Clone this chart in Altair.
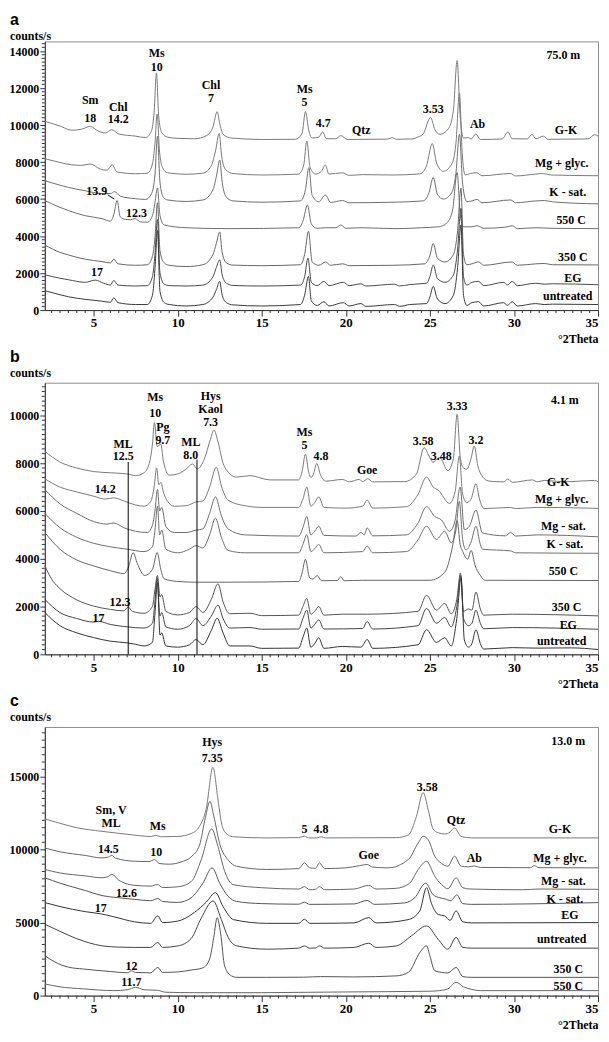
import altair as alt
import pandas as pd

# ---------------- Panel a (75.0 m) ----------------
A_GK = [(2.1,10200),(3.0,9950),(3.7,9720),(4.3,9780),(4.8,9930),(5.3,9660),(5.7,9570),(6.08,9750),(6.5,9520),(7.5,9400),(8.1,9320),(8.45,9700),(8.6,10700),(8.74,12820),(8.87,10500),(9.05,9600),(9.4,9350),(10.0,9280),(11.0,9260),(11.7,9420),(12.1,9900),(12.35,10730),(12.5,10100),(12.7,9500),(13.2,9300),(15.0,9220),(17.0,9230),(17.4,9550),(17.6,10730),(17.8,9700),(18.0,9300),(18.4,9350),(18.62,9630),(18.85,9260),(19.4,9260),(19.7,9430),(20.1,9220),(22.5,9240),(22.75,9320),(23.0,9230),(24.0,9250),(24.2,9320),(24.6,9520),(25.04,10410),(25.3,9750),(25.6,9500),(26.1,9800),(26.4,10800),(26.62,13480),(26.8,10500),(27.0,9300),(27.3,9320),(27.45,9240),(27.74,9520),(28.0,9220),(29.3,9250),(29.64,9630),(29.9,9260),(30.8,9250),(31.07,9500),(31.3,9260),(31.76,9400),(32.0,9230),(34.4,9250),(34.8,9480),(35.0,9400)]
A_MG = [(2.1,8180),(3.0,7980),(3.7,7850),(4.3,7820),(4.8,7900),(5.4,7620),(5.8,7560),(6.1,7850),(6.4,7460),(7.5,7370),(8.2,7400),(8.5,7900),(8.65,9000),(8.78,10600),(8.92,8600),(9.1,7700),(9.4,7420),(10.5,7340),(11.5,7400),(12.0,7800),(12.25,8600),(12.47,9540),(12.62,8300),(12.85,7600),(13.3,7380),(15.0,7300),(17.2,7350),(17.5,7850),(17.68,9130),(17.88,7700),(18.2,7350),(18.55,7500),(18.78,7840),(19.0,7350),(19.8,7420),(20.2,7280),(21.0,7320),(22.8,7300),(24.4,7360),(24.8,7800),(25.14,9000),(25.4,7950),(25.8,7500),(26.3,7900),(26.55,9000),(26.76,11720),(26.92,8500),(27.1,7300),(27.4,7380),(27.8,7420),(28.1,7260),(29.8,7380),(30.1,7250),(31.3,7350),(31.7,7380),(32.2,7300),(35.0,7260)]
A_KS = [(2.1,6990),(3.0,6750),(3.5,6630),(4.5,6450),(5.5,6300),(6.0,6300),(6.25,6400),(6.6,6150),(7.5,6020),(8.1,5980),(8.45,6300),(8.65,7300),(8.8,9400),(8.95,6900),(9.15,6100),(9.4,5950),(10.5,5870),(11.5,5950),(12.1,6500),(12.32,7300),(12.5,8110),(12.65,6900),(12.9,6100),(13.3,5900),(15.0,5830),(17.3,5900),(17.6,6500),(17.8,7700),(18.0,6200),(18.4,5850),(18.78,6220),(19.1,5820),(19.8,5920),(20.2,5800),(22.8,5830),(24.6,5900),(24.95,6350),(25.2,7170),(25.45,6250),(25.8,6000),(26.3,6350),(26.55,7400),(26.76,9500),(26.95,6800),(27.2,5860),(27.5,5900),(27.8,5980),(28.1,5800),(29.8,5950),(30.1,5800),(31.3,5900),(31.8,5920),(32.3,5850),(35.0,5740)]
A_550 = [(2.1,5920),(3.0,5550),(3.5,5380),(4.5,5100),(5.5,4940),(6.0,4800),(6.2,5150),(6.4,5920),(6.58,5050),(6.9,4900),(7.2,4880),(7.45,4950),(7.8,4760),(8.2,4750),(8.5,5100),(8.65,5800),(8.8,6600),(8.95,5100),(9.2,4600),(10.5,4450),(13.0,4400),(17.2,4450),(17.45,4800),(17.72,5680),(17.95,4650),(18.3,4420),(18.8,4450),(19.4,4450),(19.7,4600),(20.0,4420),(20.9,4450),(23.0,4400),(24.5,4450),(25.5,4500),(26.0,4700),(26.35,5400),(26.62,7430),(26.8,5200),(27.0,4500),(27.5,4500),(27.8,4560),(28.2,4420),(29.5,4480),(29.9,4560),(30.2,4400),(31.3,4450),(32.2,4420),(35.0,4400)]
A_350 = [(2.1,3510),(3.0,3120),(3.5,2980),(4.5,2750),(5.5,2620),(6.0,2550),(6.2,2750),(6.45,2500),(7.5,2420),(8.2,2450),(8.5,2900),(8.65,3900),(8.8,5800),(8.95,3200),(9.2,2550),(9.5,2420),(10.5,2350),(11.5,2450),(12.1,3000),(12.3,3600),(12.5,4220),(12.65,3100),(12.9,2550),(13.3,2430),(15.0,2400),(17.3,2450),(17.55,3000),(17.78,4260),(18.0,2600),(18.4,2420),(18.8,2600),(19.1,2420),(19.8,2500),(20.2,2400),(22.8,2420),(24.7,2500),(25.0,2950),(25.2,3600),(25.45,2800),(25.9,2600),(26.4,3000),(26.65,4300),(26.85,6600),(27.0,3000),(27.2,2450),(27.5,2500),(27.9,2600),(28.2,2420),(29.9,2600),(30.2,2420),(31.3,2500),(31.8,2520),(32.3,2450),(35.0,2440)]
A_EG = [(2.1,1910),(3.0,1720),(3.5,1640),(4.5,1500),(5.1,1620),(5.6,1450),(6.0,1350),(6.2,1600),(6.45,1350),(7.5,1300),(8.2,1320),(8.5,1800),(8.65,3000),(8.8,4900),(8.95,2000),(9.2,1400),(9.5,1320),(10.5,1300),(11.5,1350),(12.1,1800),(12.3,2300),(12.5,2710),(12.65,1900),(12.9,1450),(13.3,1330),(15.0,1300),(17.3,1350),(17.55,1800),(17.75,2800),(17.95,1500),(18.3,1320),(18.7,1550),(19.0,1320),(19.85,1500),(20.2,1320),(20.9,1420),(21.2,1300),(22.9,1400),(23.2,1300),(23.8,1380),(24.8,1450),(25.0,1800),(25.2,2440),(25.45,1700),(25.9,1500),(26.4,1900),(26.65,3300),(26.85,5500),(27.0,1800),(27.2,1350),(27.5,1500),(27.9,1550),(28.2,1320),(29.4,1500),(29.6,1350),(29.9,1550),(30.2,1320),(31.3,1450),(31.8,1400),(32.3,1420),(35.0,1370)]
A_UN = [(2.1,1050),(3.0,830),(3.5,720),(4.5,580),(5.5,480),(6.0,420),(6.2,660),(6.45,400),(7.5,300),(8.2,300),(8.5,800),(8.65,2200),(8.8,4300),(8.95,1000),(9.2,400),(9.5,300),(10.5,220),(11.5,300),(12.1,700),(12.3,1100),(12.5,1550),(12.65,800),(12.9,400),(13.3,280),(15.0,220),(17.3,300),(17.55,800),(17.78,1820),(17.95,500),(18.3,250),(18.7,450),(19.0,220),(19.85,400),(20.2,220),(20.9,350),(21.2,200),(22.9,300),(23.2,200),(23.8,300),(24.8,350),(25.0,700),(25.2,1280),(25.45,600),(25.9,350),(26.4,800),(26.65,2300),(26.85,4600),(27.0,800),(27.2,250),(27.5,400),(27.9,450),(28.2,220),(29.4,400),(29.6,250),(29.9,450),(30.2,220),(31.3,350),(31.8,300),(32.3,320),(35.0,300)]
A_NAMES = ["G-K", "Mg + glyc.", "K - sat.", "550 C", "350 C", "EG", "untreated"]
A_NOTES = [("Sm",4.8,11350),("18",4.8,10370),("Chl",6.47,11000),("14.2",6.47,10300),("Ms",8.75,13880),("10",8.75,13150),
           ("Chl",11.98,12150),("7",11.98,11450),("Ms",17.55,11950),("5",17.55,11250),("4.7",18.66,10100),("Qtz",20.92,9750),
           ("3.53",25.2,10860),("Ab",27.84,10070),("75.0 m",32.94,13760),("13.9",5.19,6450),("12.3",7.55,5240),("17",5.2,2030),
           ("G-K",33.1,9750),("Mg + glyc.",32.84,7970),("K - sat.",33.2,6360),("550 C",33.4,4850),("350 C",33.5,2890),
           ("EG",33.5,1730),("untreated",33.2,750)]
A_LEADER = [(5.84, 6230, 6.23, 6000)]

# ---------------- Panel b (4.1 m) ----------------
B_GK = [(2.1,8500),(3.0,8050),(4.0,7800),(5.0,7650),(6.0,7600),(7.0,7550),(7.5,7480),(8.0,7600),(8.35,8100),(8.5,8800),(8.62,9700),(8.78,8700),(8.9,8750),(9.0,8800),(9.15,8100),(9.5,7500),(10.0,7550),(10.5,7750),(10.88,7970),(11.18,7760),(11.6,8200),(11.95,9000),(12.16,9380),(12.4,8900),(12.7,8000),(12.94,7680),(13.5,7420),(14.3,7480),(15.5,7300),(17.2,7300),(17.4,7650),(17.6,8380),(17.8,7600),(17.94,7400),(18.1,7600),(18.27,7990),(18.5,7500),(18.8,7250),(19.8,7320),(20.2,7220),(20.8,7320),(21.0,7230),(21.3,7350),(21.6,7220),(23.5,7230),(24.2,7550),(24.66,8650),(24.95,8300),(25.19,8040),(25.58,8240),(26.07,7690),(26.4,8200),(26.62,10050),(26.8,8300),(26.96,7830),(27.2,7750),(27.45,8200),(27.64,8720),(27.85,7900),(28.03,7550),(28.52,7250),(29.4,7220),(29.64,7340),(29.9,7200),(31.1,7300),(31.4,7220),(31.8,7280),(33.0,7220),(34.8,7280),(35.0,7220)]
B_MG = [(2.1,7350),(3.0,7000),(4.0,6800),(5.0,6620),(5.7,6500),(6.2,6550),(6.8,6420),(7.5,6250),(8.0,6200),(8.4,6400),(8.6,7000),(8.75,7800),(8.88,7100),(9.0,7200),(9.15,6800),(9.4,6400),(9.8,6200),(10.5,6220),(11.1,6380),(11.5,6420),(11.9,7000),(12.3,7830),(12.6,7050),(13.0,6450),(14.0,6220),(15.0,6150),(17.2,6150),(17.45,6500),(17.68,7000),(17.92,6200),(18.15,6350),(18.39,6590),(18.7,6150),(20.0,6120),(21.0,6200),(21.27,6460),(21.6,6120),(23.6,6180),(24.3,6700),(24.8,7420),(25.2,7000),(25.5,6870),(26.17,6320),(26.5,6800),(26.75,8300),(26.95,6700),(27.2,6350),(27.45,6500),(27.74,7140),(27.95,6500),(28.23,6100),(29.8,6150),(30.1,6100),(31.4,6150),(35.0,6110)]
B_MS = [(2.1,6900),(3.0,6300),(4.0,5900),(5.0,5560),(5.8,5450),(6.2,5500),(6.8,5300),(7.5,5150),(8.2,5100),(8.5,5400),(8.65,6000),(8.8,6900),(8.93,6000),(9.05,6150),(9.3,5350),(9.8,5100),(10.5,5100),(11.1,5200),(11.5,5250),(11.9,5900),(12.25,6590),(12.6,5800),(13.0,5250),(14.0,5000),(17.2,4950),(17.45,5300),(17.68,5770),(17.92,5000),(18.15,5150),(18.39,5360),(18.7,4980),(20.6,4950),(20.9,5100),(21.1,5000),(21.27,5290),(21.6,4960),(23.6,5000),(24.3,5500),(24.8,6180),(25.29,5770),(25.68,5630),(26.17,5150),(26.5,5600),(26.8,7000),(27.05,5220),(27.35,5360),(27.74,6040),(28.13,5080),(29.5,4960),(29.8,5100),(30.1,4950),(31.4,5000),(35.0,4920)]
B_KS = [(2.1,5900),(3.0,5300),(4.0,4900),(5.0,4650),(6.0,4500),(7.0,4400),(8.0,4300),(8.5,4500),(8.65,5200),(8.8,6200),(8.93,5000),(9.05,5200),(9.3,4400),(10.0,4250),(10.7,4400),(11.1,4550),(11.5,4450),(11.9,5000),(12.25,5700),(12.6,4900),(13.0,4350),(14.0,4250),(17.2,4250),(17.45,4600),(17.68,5010),(17.92,4300),(18.15,4420),(18.39,4600),(18.7,4250),(21.0,4300),(21.27,4530),(21.6,4250),(23.6,4300),(24.3,4800),(24.8,5360),(25.39,4810),(25.88,5150),(26.27,4670),(26.55,5200),(26.75,6400),(26.95,4800),(27.15,4370),(27.45,4700),(27.74,5360),(28.0,4600),(28.13,4400),(29.8,4330),(30.1,4250),(35.0,4230)]
B_550 = [(2.1,5100),(3.0,4400),(4.0,3950),(5.0,3700),(6.0,3500),(6.8,3380),(7.1,3700),(7.35,4260),(7.6,3800),(8.04,3300),(8.5,3550),(8.78,4260),(9.0,3550),(9.2,3160),(10.0,3050),(11.0,3020),(13.0,3020),(17.2,3050),(17.4,3400),(17.6,3980),(17.85,3200),(18.05,3150),(18.3,3300),(18.55,3080),(19.5,3090),(19.7,3250),(19.9,3080),(21.0,3100),(25.0,3100),(25.88,3430),(26.37,4600),(26.62,5600),(26.8,4600),(26.96,4300),(27.25,3980),(27.45,4350),(27.7,3700),(27.94,3370),(28.3,3100),(35.0,3090)]
B_350 = [(2.1,3700),(2.6,3050),(3.0,2750),(4.0,2280),(5.0,2020),(6.0,1880),(6.8,1820),(7.06,1980),(7.3,1800),(8.0,1720),(8.5,2000),(8.65,2700),(8.8,3300),(8.95,2400),(9.05,2500),(9.3,1800),(10.0,1650),(10.7,1750),(11.1,2000),(11.5,1750),(12.0,2300),(12.4,2950),(12.7,2200),(13.1,1700),(14.3,1720),(15.0,1620),(17.2,1640),(17.45,2000),(17.68,2340),(17.92,1680),(18.15,1800),(18.39,2000),(18.7,1640),(19.8,1680),(21.3,1680),(24.3,1800),(24.8,2470),(25.39,1850),(25.88,2130),(26.27,1700),(26.6,2300),(26.82,3400),(27.0,1800),(27.3,1900),(27.5,1850),(27.74,2610),(28.0,1900),(28.2,1640),(29.9,1680),(35.0,1610)]
B_EG = [(2.1,2300),(3.0,1750),(4.0,1500),(5.0,1350),(5.3,1380),(6.0,1250),(7.0,1150),(8.0,1100),(8.5,1300),(8.65,2200),(8.78,3200),(8.95,1600),(9.05,1750),(9.3,1150),(10.0,1050),(10.7,1200),(11.1,1500),(11.5,1200),(12.0,1600),(12.4,2060),(12.7,1500),(13.1,1100),(14.3,1120),(15.0,1050),(17.2,1060),(17.45,1500),(17.68,1850),(17.92,1100),(18.15,1250),(18.39,1440),(18.7,1060),(21.0,1080),(21.27,1370),(21.6,1060),(24.3,1200),(24.8,1920),(25.39,1300),(25.88,1540),(26.27,1150),(26.6,2000),(26.84,3300),(27.0,1500),(27.3,1200),(27.5,1300),(27.74,1850),(28.0,1300),(28.2,1070),(29.9,1120),(35.0,1050)]
B_UN = [(2.1,1750),(3.0,1200),(4.0,900),(5.0,700),(6.0,550),(7.0,480),(7.5,420),(8.0,350),(8.5,500),(8.65,1700),(8.8,3000),(8.95,800),(9.05,900),(9.3,350),(10.0,300),(10.7,400),(11.1,620),(11.5,400),(12.0,1000),(12.35,1510),(12.7,900),(13.1,350),(14.3,350),(15.0,250),(17.2,260),(17.45,700),(17.68,1100),(17.92,300),(18.15,450),(18.39,690),(18.7,250),(19.8,330),(20.9,300),(21.27,620),(21.6,250),(24.3,400),(24.8,1030),(25.39,500),(25.88,690),(26.27,350),(26.6,1500),(26.86,3200),(27.05,600),(27.3,300),(27.5,450),(27.74,1030),(28.0,450),(28.2,220),(29.9,280),(31.3,260),(33.4,270),(35.0,200)]
B_NAMES = ["G-K", "Mg + glyc.", "Mg - sat.", "K - sat.", "550 C", "350 C", "EG", "untreated"]
B_NOTES = [("ML",6.76,8820),("12.5",6.76,8300),("Ms",8.67,10760),("10",8.67,10100),("Pg",9.12,9520),("9.7",9.12,8990),
           ("ML",10.78,8900),("8.0",10.78,8360),("Hys",11.96,10800),("Kaol",11.96,10270),("7.3",11.96,9740),
           ("14.2",5.69,6940),("12.3",6.57,2200),("17",5.29,1510),("Ms",17.54,9300),("5",17.54,8760),("4.8",18.52,8310),
           ("Goe",21.27,7720),("3.58",24.6,8930),("3.48",25.68,8310),("3.33",26.62,10410),("3.2",27.74,8960),("4.1 m",33.03,10650),
           ("G-K",32.64,7210),("Mg + glyc.",32.84,6520),("Mg - sat.",32.94,5360),("K - sat.",33.03,4600),("550 C",32.94,3500),
           ("350 C",33.13,1990),("EG",33.23,1240),("untreated",32.84,550)]
B_LINES = [(7.06, 0, 8050), (11.15, 0, 8150)]

# ---------------- Panel c (13.0 m) ----------------
C_GK = [(2.1,12100),(3.0,11800),(4.0,11500),(5.5,11250),(7.0,11050),(8.43,10900),(8.7,10980),(9.0,10880),(10.0,10900),(10.8,11100),(11.3,11600),(11.7,12800),(12.1,15640),(12.4,13400),(12.65,11600),(13.0,11000),(13.33,10880),(15.3,10800),(17.2,10820),(17.54,10920),(17.8,10800),(18.3,10800),(18.52,10880),(18.8,10800),(23.0,10820),(23.72,11000),(24.2,12270),(24.6,13910),(24.9,12730),(25.19,11410),(25.5,11150),(25.88,11070),(26.2,11200),(26.47,11480),(26.86,10900),(27.5,10800),(35.0,10800)]
C_MG = [(2.1,10110),(3.0,9850),(4.5,9600),(5.5,9430),(5.85,9480),(6.08,9600),(6.3,9420),(7.45,9200),(8.3,9180),(8.63,9320),(8.9,9050),(9.5,9000),(10.2,9150),(10.8,9500),(11.3,10300),(11.65,12200),(11.92,13300),(12.15,12300),(12.5,10400),(13.0,9300),(13.5,8860),(15.3,8640),(17.2,8700),(17.54,9090),(17.85,8750),(18.2,8720),(18.43,9090),(18.75,8700),(20.0,8750),(20.8,8900),(21.27,8980),(21.6,8800),(22.5,8750),(23.72,9320),(24.31,10460),(24.6,10910),(24.9,10680),(25.29,9550),(25.7,9050),(26.07,8860),(26.47,9550),(26.86,8860),(27.3,8820),(27.64,8880),(28.0,8780),(30.98,8760),(31.2,8900),(31.5,8760),(35.0,8750)]
C_MS = [(2.1,8640),(3.0,8400),(4.5,8200),(5.5,8070),(5.85,8150),(6.1,8300),(6.5,7900),(7.45,7550),(8.4,7500),(8.8,7610),(9.1,7400),(10.0,7450),(10.8,7800),(11.4,9300),(12.02,11410),(12.4,10200),(12.8,8500),(13.3,7600),(15.0,7390),(17.2,7300),(17.54,7460),(17.85,7250),(18.2,7280),(18.43,7460),(18.75,7250),(20.5,7300),(21.37,7550),(21.8,7300),(23.0,7350),(23.8,7700),(24.31,8640),(24.8,9200),(25.29,8180),(25.7,7600),(26.07,7320),(26.56,8070),(26.96,7390),(27.4,7300),(30.5,7250),(31.5,7300),(35.0,7280)]
C_KS = [(2.1,8070),(3.0,7700),(4.5,7200),(5.5,6850),(6.5,6700),(7.45,6590),(8.4,6500),(8.82,6650),(9.1,6450),(10.0,6380),(10.8,6700),(11.5,7700),(12.05,8750),(12.5,7700),(13.0,6800),(13.5,6450),(15.0,6300),(17.2,6260),(17.54,6400),(17.85,6250),(20.5,6280),(21.27,6520),(21.7,6250),(23.5,6350),(24.1,6700),(24.75,7700),(25.2,6900),(25.6,6700),(25.9,6620),(26.25,6500),(26.6,6900),(26.96,6300),(27.5,6250),(35.0,6370)]
C_EG = [(2.1,6370),(3.0,6100),(4.5,5750),(5.43,5600),(6.2,5400),(7.45,5050),(8.4,4950),(8.82,5460),(9.1,5000),(10.0,5100),(11.0,5700),(11.7,6400),(12.25,7050),(12.7,6100),(13.33,5200),(15.3,4950),(17.2,4950),(17.54,5230),(17.85,4950),(20.5,4980),(21.37,5340),(21.8,4980),(23.7,5200),(24.4,5800),(24.8,7390),(25.1,6300),(25.5,5550),(25.88,5460),(26.2,5150),(26.56,5800),(26.96,5050),(27.5,4980),(35.0,5000)]
C_UN = [(2.1,4890),(3.0,4400),(4.0,3900),(5.5,3410),(6.5,3320),(7.45,3300),(8.4,3300),(8.82,3640),(9.1,3300),(10.0,3400),(10.8,3900),(11.4,5300),(12.11,6480),(12.6,5200),(13.0,4000),(13.5,3410),(15.3,3180),(17.2,3250),(17.54,3400),(17.85,3250),(18.2,3260),(18.43,3400),(18.75,3250),(20.5,3300),(21.37,3590),(21.8,3300),(23.0,3400),(23.9,4090),(24.8,4770),(25.49,3860),(26.07,3180),(26.56,3980),(26.96,3300),(27.5,3250),(35.0,3250)]
C_350 = [(2.1,2730),(2.7,2300),(3.5,1950),(4.4,1820),(6.0,1650),(7.0,1560),(7.25,1700),(7.5,1580),(8.4,1560),(8.82,1930),(9.1,1590),(10.0,1620),(10.8,1750),(11.5,1900),(11.9,2500),(12.15,4000),(12.35,5340),(12.55,4300),(12.8,2000),(13.2,1350),(13.5,1250),(15.3,1250),(17.5,1260),(18.5,1300),(20.5,1280),(23.0,1350),(23.72,1590),(24.41,2960),(24.8,3410),(25.0,2730),(25.29,1700),(26.07,1550),(26.56,1930),(26.96,1300),(27.5,1250),(35.0,1250)]
C_550 = [(2.1,800),(3.0,600),(4.4,460),(6.2,340),(7.0,400),(7.5,570),(8.0,400),(8.8,360),(9.3,230),(11.0,200),(15.0,200),(17.2,220),(20.0,250),(25.0,300),(26.0,420),(26.56,910),(27.0,600),(27.5,420),(28.0,340),(35.0,340)]
C_NAMES = ["G-K", "Mg + glyc.", "Mg - sat.", "K - sat.", "EG", "untreated", "350 C", "550 C"]
C_NOTES = [("Hys",12.06,17390),("7.35",12.06,16250),("Sm, V",6.04,12730),("ML",6.04,11820),("Ms",8.82,11640),
           ("14.5",5.88,10050),("10",8.73,9820),("12.6",6.96,7000),("17",5.43,6020),("12",7.25,2050),("11.7",7.25,910),
           ("5",17.54,11400),("4.8",18.52,11400),("Goe",21.37,9660),("3.58",24.84,14300),("Qtz",26.56,12050),("Ab",27.64,9430),
           ("13.0 m",33.23,17450),("G-K",32.74,11400),("Mg + glyc.",32.74,9430),("Mg - sat.",32.94,7880),("K - sat.",33.03,6640),
           ("EG",33.33,5500),("untreated",32.84,3860),("350 C",33.23,1820),("550 C",33.23,680)]

# ---------------- styling ----------------
SERIF = "Liberation Serif"
SANS = "Liberation Sans"
PLOT_W = 556
A_COLORS = ["#7a7a7a", "#7a7a7a", "#6e6e6e", "#6e6e6e", "#666666", "#4a4a4a", "#3a3a3a"]
B_COLORS = ["#7a7a7a", "#7a7a7a", "#6e6e6e", "#6e6e6e", "#666666", "#555555", "#444444", "#333333"]
C_COLORS = ["#7a7a7a", "#666666", "#666666", "#555555", "#333333", "#444444", "#555555", "#666666"]


def panel(letter, names, traces, colors, notes, ytop, ymajor, yminor, height, prefix,
          vlines=None, leaders=None):
    rows = []
    for name, pts in zip(names, traces):
        for i, (x, y) in enumerate(pts):
            rows.append({"trace": prefix + name, "x": x, "y": y, "i": i})
    df = pd.DataFrame(rows)
    notes_df = pd.DataFrame(notes, columns=["t", "x", "y"])

    xscale = alt.Scale(domain=[2.1, 35], nice=False, zero=False)
    yscale = alt.Scale(domain=[0, ytop], nice=False, zero=False)
    x_axis = alt.Axis(
        values=[5, 10, 15, 20, 25, 30, 35], tickSize=6, format="d",
        labelOverlap=False, labelFlush=True, labelPadding=1, grid=False,
        title="°2Theta", titleX=PLOT_W, titleY=29, titleAlign="right", titleBaseline="middle",
    )
    y_axis = alt.Axis(
        values=list(range(0, ytop + 1, ymajor)), tickSize=5, format="d",
        labelOverlap=False, labelPadding=1, grid=False, title=None,
    )
    X = alt.X("x:Q", scale=xscale, axis=x_axis)
    Y = alt.Y("y:Q", scale=yscale, axis=y_axis)

    lines = alt.Chart(df).mark_line(strokeWidth=1, interpolate="monotone").encode(
        x=X, y=Y,
        color=alt.Color("trace:N", scale=alt.Scale(domain=[prefix + n for n in names], range=colors), legend=None),
        order="i:Q",
    )
    text = alt.Chart(notes_df).mark_text(font=SERIF, fontWeight="bold", fontSize=12, color="black").encode(
        x=X, y=Y, text="t:N"
    )
    # minor ticks on both axes
    xminor = pd.DataFrame({"x": [t / 2 for t in range(5, 71) if t % 10 != 0]})
    yminor_df = pd.DataFrame({"y": [v for v in range(0, ytop + 1, yminor) if v % ymajor != 0]})
    xm = alt.Chart(xminor).mark_rule(color="#333333", strokeWidth=1).encode(
        x=X, y=alt.value(height), y2=alt.value(height + 3))
    ym = alt.Chart(yminor_df).mark_rule(color="#333333", strokeWidth=1).encode(
        y=Y, x=alt.value(0), x2=alt.value(-3))
    layers = [lines, text, xm, ym]
    if vlines:
        vdf = pd.DataFrame(vlines, columns=["x", "y", "y2"])
        layers.append(alt.Chart(vdf).mark_rule(color="black", strokeWidth=1).encode(x=X, y=Y, y2="y2:Q"))
    if leaders:
        ldf = pd.DataFrame(leaders, columns=["x", "y", "x2", "y2"])
        layers.append(alt.Chart(ldf).mark_rule(color="black", strokeWidth=1).encode(x=X, y=Y, x2="x2:Q", y2="y2:Q"))

    letter_y = -22 if letter == "a" else -26
    unit_y = -5 if letter == "a" else -10
    lab = alt.Chart(pd.DataFrame({"t": [letter]})).mark_text(
        font=SANS, fontWeight="bold", fontSize=16, align="left", baseline="middle", color="black"
    ).encode(x=alt.value(-35), y=alt.value(letter_y), text="t:N")
    unit = alt.Chart(pd.DataFrame({"t": ["counts/s"]})).mark_text(
        font=SERIF, fontWeight="bold", fontSize=12, align="left", baseline="middle", color="black"
    ).encode(x=alt.value(-35), y=alt.value(unit_y), text="t:N")
    layers += [lab, unit]
    return alt.layer(*layers).properties(width=PLOT_W, height=height)


pa = panel("a", A_NAMES, [A_GK, A_MG, A_KS, A_550, A_350, A_EG, A_UN], A_COLORS, A_NOTES,
           14520, 2000, 200, 270, "a:", leaders=A_LEADER)
pb = panel("b", B_NAMES, [B_GK, B_MG, B_MS, B_KS, B_550, B_350, B_EG, B_UN], B_COLORS, B_NOTES,
           11370, 2000, 200, 273, "b:", vlines=B_LINES)
pc = panel("c", C_NAMES, [C_GK, C_MG, C_MS, C_KS, C_EG, C_UN, C_350, C_550], C_COLORS, C_NOTES,
           18400, 5000, 500, 270, "c:")

chart = (
    alt.vconcat(pa, pb, pc, spacing=73, bounds="flush")
    .resolve_scale(x="independent", y="independent", color="independent")
    .properties(padding=0)
    .configure_view(stroke="#8c8c8c", strokeWidth=1)
    .configure_axis(
        labelFont=SERIF, labelFontWeight="bold", labelFontSize=13, labelColor="black",
        titleFont=SERIF, titleFontWeight="bold", titleFontSize=12, titleColor="black",
        domainColor="#333333", tickColor="#333333", domainWidth=1, tickWidth=1,
    )
    .configure_axisY(labelFontSize=12)
)

chart.save("out.html", embed_options={"renderer": "svg", "actions": False})
